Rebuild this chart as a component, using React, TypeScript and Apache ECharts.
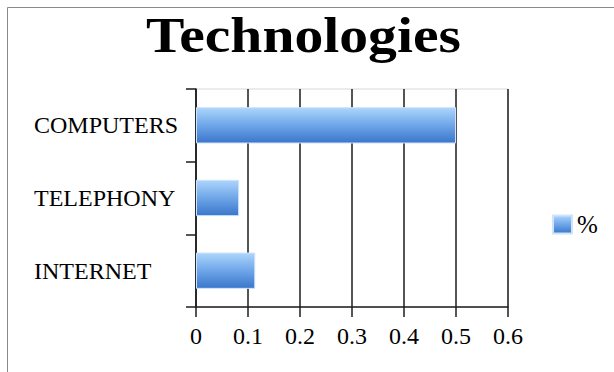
import React, { useEffect, useRef } from "react";
import * as echarts from "echarts";

// Share of respondents per technology
const categories = ["INTERNET", "TELEPHONY", "COMPUTERS"];
const shares = [0.114, 0.083, 0.5];
const seriesName = "%";
const chartTitle = "Technologies";

const SERIF = '"Liberation Serif", "Times New Roman", serif';
const INK = "#1c1c1c";

const barFill = new echarts.graphic.LinearGradient(0, 0, 0, 1, [
  { offset: 0, color: "#acd5fb" },
  { offset: 0.5, color: "#6ea6e8" },
  { offset: 1, color: "#3a76cb" },
]);

export default function App() {
  const ref = useRef<HTMLDivElement>(null);

  useEffect(() => {
    document.body.style.margin = "0";
    const chart = echarts.init(ref.current!, null, { renderer: "svg" });
    chart.setOption({
      animation: false,
      backgroundColor: "#ffffff",
      graphic: [
        {
          type: "rect",
          shape: { x: 7.5, y: 7.5, width: 700, height: 500 },
          style: { fill: "none", stroke: "#8a8a8a", lineWidth: 1 },
          silent: true,
        },
        {
          type: "text",
          x: 303.5,
          y: 35.5,
          scaleX: 1.13,
          style: {
            text: chartTitle,
            font: `bold 51px ${SERIF}`,
            fill: "#000",
            align: "center",
            verticalAlign: "middle",
          },
        },
      ],
      legend: {
        data: [seriesName],
        left: 547,
        top: 207,
        itemWidth: 19,
        itemHeight: 18,
        itemGap: 4,
        icon: "rect",
        textStyle: { fontFamily: SERIF, fontSize: 25, color: "#000" },
      },
      grid: {
        left: 196,
        right: 106,
        top: 89,
        bottom: 65,
        show: true,
        borderColor: "#d8d8d8",
        borderWidth: 1,
      },
      xAxis: {
        type: "value",
        min: 0,
        max: 0.6,
        interval: 0.1,
        axisLine: { show: true, lineStyle: { color: INK, width: 1.5 } },
        axisTick: { show: true, length: 10, lineStyle: { color: INK, width: 1.5 } },
        splitLine: { show: true, lineStyle: { color: INK, width: 1.5 } },
        axisLabel: {
          margin: 17,
          fontFamily: SERIF,
          fontSize: 24,
          color: "#000",
          formatter: (v: number) => String(Math.round(v * 10) / 10),
        },
      },
      yAxis: {
        type: "category",
        data: categories,
        axisLine: { show: true, lineStyle: { color: INK, width: 1.5 } },
        axisTick: { show: true, length: 10, lineStyle: { color: INK, width: 1.5 } },
        axisLabel: {
          align: "left",
          margin: 162,
          fontFamily: SERIF,
          fontSize: 24,
          color: "#000",
        },
      },
      series: [
        {
          name: seriesName,
          type: "bar",
          data: shares,
          barWidth: "50%",
          itemStyle: { color: barFill, borderColor: "#cfe4fb", borderWidth: 1 },
        },
      ],
    });
    return () => chart.dispose();
  }, []);

  return <div ref={ref} style={{ width: 614, height: 372 }} />;
}
